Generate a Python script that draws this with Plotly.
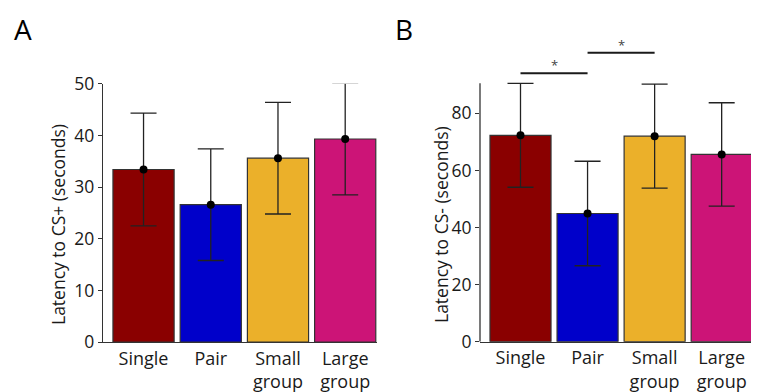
import plotly.graph_objects as go

# ---------------- data ----------------
groups = ["Single", "Pair", "Small<br>group", "Large<br>group"]
bar_colors = ["#8A0000", "#0000CA", "#EBB02A", "#CC1477"]

cs_plus_mean = [33.4, 26.6, 35.6, 39.3]
cs_plus_err = [10.9, 10.8, 10.8, 10.8]

cs_minus_mean = [72.3, 44.9, 72.0, 65.6]
cs_minus_err = [18.2, 18.3, 18.2, 18.1]

a_ticks = [0, 10, 20, 30, 40, 50]
b_ticks = [0, 20, 40, 60, 80]
b_axis_top = 90.5

# significance brackets in panel B
sig_from = ["Single", "Pair"]
sig_to = ["Pair", "Small<br>group"]
sig_height = [94.0, 101.2]
sig_label = ["*", "*"]

FONT = "Open Sans"
TXT = "#1a1a1a"
W, H = 759, 392
OFF = 8  # the page body margin moves the figure by this many pixels


def fx(px):
    return (px - OFF) / W


def fy(py):
    return 1 - (py - OFF) / H


fig = go.Figure()


def add_panel(means, errs, xa, ya):
    fig.add_trace(go.Bar(
        x=groups, y=means, xaxis=xa, yaxis=ya,
        marker=dict(color=bar_colors, line=dict(color="#333333", width=1.2)),
        width=0.91, showlegend=False, hoverinfo="skip"))
    fig.add_trace(go.Scatter(
        x=groups, y=means, xaxis=xa, yaxis=ya, mode="markers",
        marker=dict(color="black", size=8),
        error_y=dict(type="data", array=errs, color="#222222", thickness=1.3, width=13),
        showlegend=False, hoverinfo="skip"))


add_panel(cs_plus_mean, cs_plus_err, "x", "y")
add_panel(cs_minus_mean, cs_minus_err, "x2", "y2")

axis_common = dict(showgrid=False, zeroline=False, linecolor="#333333", linewidth=1.3,
                   automargin=False,
                   tickfont=dict(family=FONT, size=17.5, color=TXT))
xfont = dict(family=FONT, size=18, color=TXT)

b_scale = 2.855  # px per unit in panel B
fig.update_layout(
    width=W, height=H, margin=dict(l=0, r=0, t=0, b=0, autoexpand=False),
    paper_bgcolor="white", plot_bgcolor="white", showlegend=False,
    font=dict(family=FONT, color=TXT),
    bargap=0.09,
    xaxis=dict(domain=[fx(103), fx(377)], anchor="y", type="category",
               range=[-0.603, 3.473], showline=True, ticks="",
               **{**axis_common, "tickfont": xfont}),
    yaxis=dict(domain=[fy(342.2), fy(83.7)], anchor="x",
               range=[0, 50], tickvals=a_ticks, showline=True, ticks="outside",
               ticklen=4, tickwidth=1.3, tickcolor="#333333",
               **axis_common),
    xaxis2=dict(domain=[fx(480), fx(753)], anchor="y2", type="category",
                range=[-0.604, 3.467], showline=True, ticks="",
                **{**axis_common, "tickfont": xfont}),
    yaxis2=dict(domain=[fy(341.7), fy(341.7 - 108 * b_scale)], anchor="x2",
                range=[0, 108], tickvals=b_ticks, showline=False, ticks="outside",
                ticklen=4, tickwidth=1.3, tickcolor="#333333",
                **axis_common),
)

# y-axis line of panel B (stops at the axis maximum; brackets sit above it)
fig.add_shape(type="line", xref="x2 domain", yref="y2", x0=0, x1=0, y0=0, y1=b_axis_top,
              line=dict(color="#333333", width=1.3))

for f, t, h, lab in zip(sig_from, sig_to, sig_height, sig_label):
    fig.add_shape(type="line", xref="x2", yref="y2", x0=f, x1=t, y0=h, y1=h,
                  line=dict(color="#1a1a1a", width=2))
    i0, i1 = groups.index(f), groups.index(t)
    fig.add_annotation(xref="x2", yref="y2", x=(i0 + i1) / 2, y=h, text=lab,
                       showarrow=False, yanchor="bottom", yshift=-3,
                       font=dict(family=FONT, size=13, color="#444444"))

# axis titles
fig.add_annotation(xref="paper", yref="paper", x=fx(58), y=fy(225),
                   text="Latency to CS+ (seconds)", textangle=-90, showarrow=False,
                   xanchor="center", yanchor="middle",
                   font=dict(family=FONT, size=17.5, color=TXT))
fig.add_annotation(xref="paper", yref="paper", x=fx(441), y=fy(225),
                   text="Latency to CS- (seconds)", textangle=-90, showarrow=False,
                   xanchor="center", yanchor="middle",
                   font=dict(family=FONT, size=17.5, color=TXT))

# panel letters (text box kept inside the figure)
fig.add_annotation(xref="paper", yref="paper", x=fx(23), y=1, text="A",
                   showarrow=False, xanchor="center", yanchor="top",
                   font=dict(family=FONT, size=28, color="black"))
fig.add_annotation(xref="paper", yref="paper", x=fx(404), y=1, text="B",
                   showarrow=False, xanchor="center", yanchor="top",
                   font=dict(family=FONT, size=28, color="black"))

fig.write_html("out.html")
